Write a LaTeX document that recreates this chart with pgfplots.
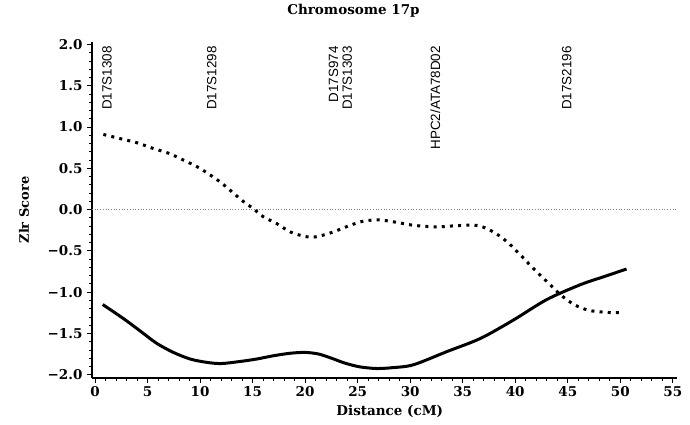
\documentclass[border=0pt]{standalone}
\usepackage{pgfplots}
\pgfplotsset{compat=1.18}
\usepackage{fontspec}
\newfontfamily\labfont{Liberation Sans}
\newfontfamily\serb{DejaVu Serif}
\begin{document}
\begin{tikzpicture}
\path[use as bounding box] (-92pt,-47pt) rectangle (598pt,378pt);
\begin{axis}[
  at={(0,0)}, anchor=south west, scale only axis,
  width=585pt, height=336pt,
  xmin=-0.29, xmax=55.4, ymin=-2.04, ymax=2.03,
  axis lines=left, axis line style={-, line width=1.1pt},
  tick align=outside, major tick length=5pt, minor tick length=3pt,
  every tick/.style={black, line width=0.8pt},
  xtick={0,5,10,15,20,25,30,35,40,45,50,55}, minor x tick num=4,
  xticklabels={0,5,10,15,20,25,30,35,40,45,50,55},
  ytick={-2,-1.5,-1,-0.5,0,0.5,1,1.5,2}, minor y tick num=4,
  yticklabels={−2.0,−1.5,−1.0,−0.5,0.0,0.5,1.0,1.5,2.0},
  tick label style={font=\serb\bfseries\fontsize{13.5}{15}\selectfont},
  yticklabel style={xshift=-1pt},
  title={Chromosome 17p},
  title style={font=\serb\bfseries\fontsize{13.5}{15}\selectfont, at={(axis description cs:0.447,1)}, anchor=center, yshift=25pt},
  xlabel={Distance (cM)},
  xlabel style={font=\serb\bfseries\fontsize{13.5}{15}\selectfont, at={(axis description cs:0.509,0)}, anchor=center, yshift=-33pt},
  ylabel={Zlr Score},
  ylabel style={font=\serb\bfseries\fontsize{13}{15}\selectfont, at={(axis description cs:-0.116,0.5)}, anchor=center},
  clip=false,
]
% zero reference line
\addplot[gray, dotted, line width=0.7pt] coordinates {(-0.29,0) (55.4,0)};
% dotted series
\addplot[black, line width=3pt, dash pattern=on 3pt off 5.2pt, smooth, tension=0.5] coordinates {
(0.79,0.91) (2.38,0.86) (3.97,0.81) (5.55,0.74) (7.05,0.68) (8.4,0.60) (9.7,0.52)
(10.95,0.42) (12.06,0.32) (13.17,0.20) (14.1,0.10) (15.08,0.01) (16.0,-0.085)
(17.3,-0.17) (18.57,-0.27) (19.8,-0.32) (20.6,-0.335) (21.4,-0.32) (22.7,-0.27) (24.3,-0.19)
(25.55,-0.14) (27.0,-0.125) (28.5,-0.15) (30.3,-0.19) (32.5,-0.21) (34.4,-0.195)
(36.2,-0.19) (37.3,-0.23) (38.4,-0.31) (39.4,-0.41) (40.5,-0.55) (41.7,-0.71) (43.0,-0.87)
(44.3,-1.03) (45.6,-1.15) (47.0,-1.22) (48.7,-1.245) (50.3,-1.25)
};
% solid series
\addplot[black, line width=3pt, smooth, tension=0.5] coordinates {
(0.73,-1.15) (2.7,-1.32) (4.29,-1.47) (5.87,-1.62) (7.46,-1.73) (9.05,-1.81)
(10.6,-1.85) (12.0,-1.865) (13.8,-1.84) (15.4,-1.81) (17.0,-1.77) (18.6,-1.74)
(20.0,-1.73) (21.3,-1.75) (22.5,-1.80) (23.8,-1.86) (25.2,-1.905) (26.8,-1.925)
(28.3,-1.915) (30.3,-1.88) (33.5,-1.72) (36.7,-1.56) (39.8,-1.34) (43.0,-1.09)
(46.2,-0.91) (48.5,-0.81) (50.6,-0.72)
};
% marker labels
\node[rotate=90, anchor=east, font=\labfont\fontsize{13.4}{14}\selectfont] at (axis cs:1.14,2.02) {D17S1308};
\node[rotate=90, anchor=east, font=\labfont\fontsize{13.4}{14}\selectfont] at (axis cs:11.1,2.02) {D17S1298};
\node[rotate=90, anchor=east, font=\labfont\fontsize{13.4}{14}\selectfont] at (axis cs:22.7,2.02) {D17S974};
\node[rotate=90, anchor=east, font=\labfont\fontsize{13.4}{14}\selectfont] at (axis cs:24.0,2.02) {D17S1303};
\node[rotate=90, anchor=east, font=\labfont\fontsize{13.4}{14}\selectfont] at (axis cs:32.4,2.02) {HPC2/ATA78D02};
\node[rotate=90, anchor=east, font=\labfont\fontsize{13.4}{14}\selectfont] at (axis cs:44.9,2.02) {D17S2196};
\end{axis}
\end{tikzpicture}
\end{document}
